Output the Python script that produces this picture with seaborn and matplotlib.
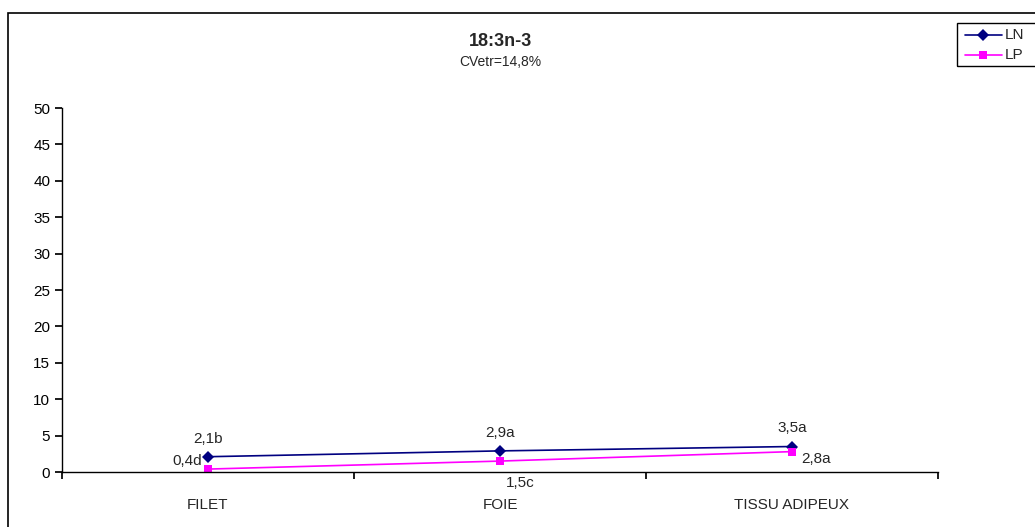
import numpy as np
import pandas as pd
import matplotlib
matplotlib.use("Agg")
import matplotlib.pyplot as plt
import seaborn as sns
from matplotlib.patches import Rectangle

# ---- data ----
categories = ["FILET", "FOIE", "TISSU ADIPEUX"]
ln_values = [2.1, 2.9, 3.5]
lp_values = [0.4, 1.5, 2.8]
ln_labels = ["2,1b", "2,9a", "3,5a"]
lp_labels = ["0,4d", "1,5c", "2,8a"]
series_names = ["LN", "LP"]
title = "18:3n-3"
subtitle = "CVetr=14,8%"

sns.set_theme(style="white")
plt.rcParams['font.family'] = ['Liberation Sans', 'DejaVu Sans']

df = pd.DataFrame({
    "tissu": categories * 2,
    "x": list(range(len(categories))) * 2,
    "valeur": ln_values + lp_values,
    "serie": [series_names[0]] * 3 + [series_names[1]] * 3,
})

fig = plt.figure(figsize=(10.35, 5.27), dpi=100)
ax = fig.add_axes([62 / 1035, 55 / 527, 876 / 1035, 364 / 527])

# outer chart frame (cut off on right/bottom like the original)
fig.patches.append(Rectangle((8 / 1035, -0.05), 1.1, (527 - 13) / 527 + 0.05,
                             transform=fig.transFigure, fill=False,
                             edgecolor="black", linewidth=1.2))

palette = {"LN": "#000080", "LP": "#FF00FF"}
sns.lineplot(data=df, x="x", y="valeur", hue="serie", style="serie",
             markers={"LN": "D", "LP": "s"}, dashes=False, palette=palette,
             markersize=6, linewidth=1.2, markeredgewidth=0, ax=ax, legend=False)

ax.set_xlim(-0.5, len(categories) - 0.5)
ax.set_ylim(0, 50)
ax.set_yticks(range(0, 51, 5))
ax.set_xticks([-0.5, 0.5, 1.5, 2.5])
ax.set_xticklabels([])
for i, c in enumerate(categories):
    ax.text(i, -4.5, c, ha="center", va="center", fontsize=11)
ax.set_xlabel("")
ax.set_ylabel("")
for s in ["top", "right"]:
    ax.spines[s].set_visible(False)
for s in ["left", "bottom"]:
    ax.spines[s].set_color("black")
    ax.spines[s].set_linewidth(1.0)
ax.tick_params(axis="y", left=True, direction="out", length=5, labelsize=11, colors="black")
ax.tick_params(axis="x", bottom=True, direction="out", length=5, colors="black")
ax.set_facecolor("white")

# data labels
for i in range(3):
    ax.annotate(ln_labels[i], (i, ln_values[i]), xytext=(0, 8), textcoords="offset points",
                ha="center", va="bottom", fontsize=11)
ax.annotate(lp_labels[0], (0, lp_values[0]), xytext=(-4, 6), textcoords="offset points",
            ha="right", va="center", fontsize=11)
ax.annotate(lp_labels[1], (1, lp_values[1]), xytext=(4, -11), textcoords="offset points",
            ha="left", va="top", fontsize=11)
ax.annotate(lp_labels[2], (2, lp_values[2]), xytext=(7, -5), textcoords="offset points",
            ha="left", va="center", fontsize=11)

fig.text(500 / 1035, 1 - 42 / 527, title, ha="center", va="center", fontsize=13, fontweight="bold")
fig.text(500 / 1035, 1 - 62 / 527, subtitle, ha="center", va="center", fontsize=10)

# legend box on the right, cut by the image edge
fig.patches.append(Rectangle((957 / 1035, 1 - 66 / 527), 0.2, 43 / 527,
                             transform=fig.transFigure, fill=False,
                             edgecolor="black", linewidth=1.0))
for name, y, m in [("LN", 35, "D"), ("LP", 55, "s")]:
    yf = 1 - y / 527
    fig.add_artist(plt.Line2D([965 / 1035, 1002 / 1035], [yf, yf], color=palette[name],
                              linewidth=1.2, transform=fig.transFigure))
    fig.add_artist(plt.Line2D([983 / 1035], [yf], marker=m, color=palette[name],
                              markersize=6, markeredgewidth=0, transform=fig.transFigure))
    fig.text(1005 / 1035, yf, name, ha="left", va="center", fontsize=11)

fig.savefig("out.png", dpi=100, facecolor="white")
